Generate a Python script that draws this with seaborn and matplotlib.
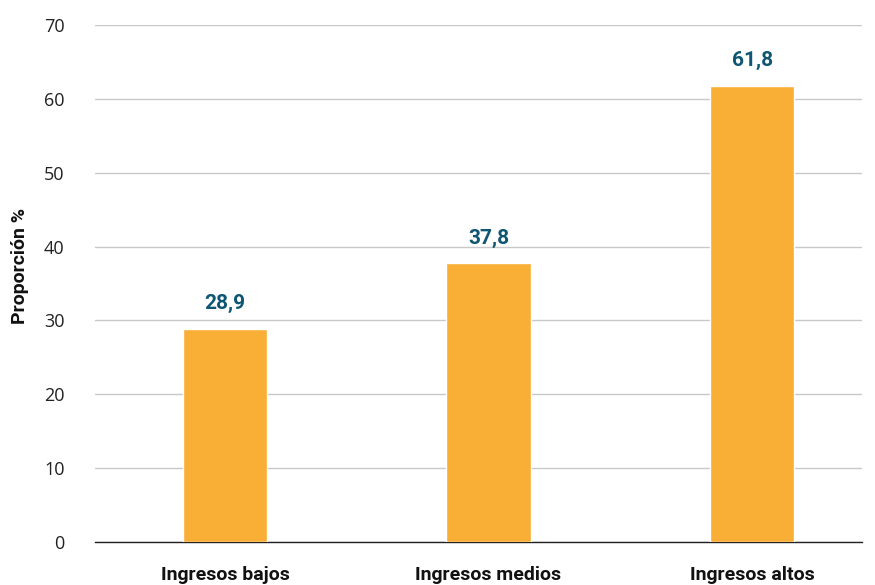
import matplotlib
matplotlib.use("Agg")
import matplotlib.pyplot as plt
import seaborn as sns
import pandas as pd

categories = ["Ingresos bajos", "Ingresos medios", "Ingresos altos"]
values = [28.9, 37.8, 61.8]
value_labels = ["28,9", "37,8", "61,8"]
yticks = [0, 10, 20, 30, 40, 50, 60, 70]

sns.set_style("white")
plt.rcParams['font.family'] = ['Liberation Sans Narrow', 'Roboto', 'DejaVu Sans']

df = pd.DataFrame({"cat": categories, "val": values})

fig = plt.figure(figsize=(8.75, 5.85), dpi=100)
ax = fig.add_axes([95/875, 43/585, (862-95)/875, (560-43)/585])

sns.barplot(data=df, x="cat", y="val", color="#F9AE36", saturation=1,
            width=0.32, ax=ax, zorder=3)

ax.set_xlim(-0.493, 2.417)
ax.set_ylim(0, 70)
ax.set_yticks(yticks)
ax.set_yticklabels([str(t) for t in yticks], fontsize=13, family=['Open Sans', 'DejaVu Sans'], color="#222222")
ax.yaxis.grid(True, color="#C8C8C8", linewidth=1, zorder=0)
ax.set_axisbelow(True)
for s in ["top", "right", "left"]:
    ax.spines[s].set_visible(False)
ax.spines["bottom"].set_color("#222222")
ax.spines["bottom"].set_linewidth(1)
ax.tick_params(axis="y", length=0, pad=22)
ax.tick_params(axis="x", length=0, pad=17)
for lbl in ax.get_xticklabels():
    lbl.set_fontsize(14)
    lbl.set_fontweight("bold")
    lbl.set_color("#111111")

ax.set_xlabel("")
ax.set_ylabel("Proporción %", fontsize=14, fontweight="bold", color="#111111")
ax.yaxis.set_label_coords(-0.086, 0.534)

for i, (v, t) in enumerate(zip(values, value_labels)):
    ax.annotate(t, xy=(i, v), xytext=(0, 11), textcoords="offset points",
                ha="center", va="bottom", fontsize=15, fontweight="bold", color="#0F5673")

fig.savefig("out.png", dpi=100)
